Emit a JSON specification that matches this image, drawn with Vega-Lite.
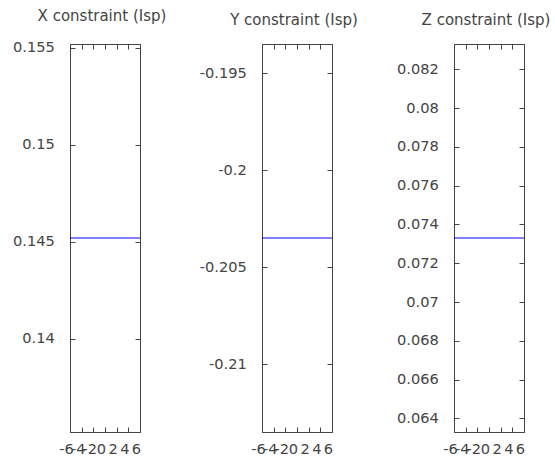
{
  "$schema": "https://vega.github.io/schema/vega-lite/v6.json",
  "background": "white",
  "padding": {"left": 12, "top": 8, "right": 0, "bottom": 0},
  "bounds": "flush",
  "spacing": 122,
  "config": {
    "view": {"stroke": "#444", "strokeWidth": 1},
    "axis": {
      "tickSize": -5,
      "tickColor": "#444",
      "tickWidth": 1,
      "domain": false,
      "grid": false,
      "labelFont": "DejaVu Sans",
      "labelFontSize": 14.6,
      "labelColor": "#444",
      "labelOverlap": false,
      "labelBound": false,
      "labelFlush": false
    },
    "axisX": {"labelPadding": 14.5},
    "axisY": {"labelPadding": 20.7},
    "title": {"font": "DejaVu Sans", "fontSize": 15, "fontWeight": "normal", "color": "#444", "anchor": "middle", "frame": "group", "baseline": "alphabetic", "offset": 15.5, "dx": -3}
  },
  "hconcat": [
    {
      "width": 70,
      "height": 388,
      "title": "X constraint (Isp)",
      "data": {"values": [{"x": -6, "y": 0.1452}, {"x": 6, "y": 0.1452}]},
      "layer": [
        {
          "mark": {"type": "line", "color": "#0000ff", "strokeWidth": 1},
          "encoding": {
            "x": {"field": "x", "type": "quantitative", "scale": {"domain": [-6, 6], "nice": false}, "axis": {"orient": "bottom", "values": [-6, -4, -2, 0, 2, 4, 6], "labelExpr": "'' + datum.value", "labelOffset": -4, "title": null}},
            "y": {"field": "y", "type": "quantitative", "scale": {"domain": [0.1352, 0.1552], "nice": false, "zero": false}, "axis": {"orient": "left", "values": [0.14, 0.145, 0.15, 0.155], "labelExpr": "'' + datum.value", "title": null}}
          }
        },
        {
          "mark": {"type": "line", "opacity": 0},
          "encoding": {
            "x": {"field": "x", "type": "quantitative", "axis": {"orient": "top", "values": [-6, -4, -2, 0, 2, 4, 6], "labels": false, "title": null}},
            "y": {"field": "y", "type": "quantitative", "axis": {"orient": "right", "values": [0.14, 0.145, 0.15, 0.155], "labels": false, "title": null}}
          }
        }
      ],
      "resolve": {"axis": {"x": "independent", "y": "independent"}}
    },
    {
      "width": 70,
      "height": 388,
      "title": "Y constraint (Isp)",
      "data": {"values": [{"x": -6, "y": -0.2035}, {"x": 6, "y": -0.2035}]},
      "layer": [
        {
          "mark": {"type": "line", "color": "#0000ff", "strokeWidth": 1},
          "encoding": {
            "x": {"field": "x", "type": "quantitative", "scale": {"domain": [-6, 6], "nice": false}, "axis": {"orient": "bottom", "values": [-6, -4, -2, 0, 2, 4, 6], "labelExpr": "'' + datum.value", "labelOffset": -4, "title": null}},
            "y": {"field": "y", "type": "quantitative", "scale": {"domain": [-0.2135, -0.1935], "nice": false, "zero": false}, "axis": {"orient": "left", "values": [-0.21, -0.205, -0.2, -0.195], "labelExpr": "'' + datum.value", "title": null}}
          }
        },
        {
          "mark": {"type": "line", "opacity": 0},
          "encoding": {
            "x": {"field": "x", "type": "quantitative", "axis": {"orient": "top", "values": [-6, -4, -2, 0, 2, 4, 6], "labels": false, "title": null}},
            "y": {"field": "y", "type": "quantitative", "axis": {"orient": "right", "values": [-0.21, -0.205, -0.2, -0.195], "labels": false, "title": null}}
          }
        }
      ],
      "resolve": {"axis": {"x": "independent", "y": "independent"}}
    },
    {
      "width": 70,
      "height": 388,
      "title": "Z constraint (Isp)",
      "data": {"values": [{"x": -6, "y": 0.0733}, {"x": 6, "y": 0.0733}]},
      "layer": [
        {
          "mark": {"type": "line", "color": "#0000ff", "strokeWidth": 1},
          "encoding": {
            "x": {"field": "x", "type": "quantitative", "scale": {"domain": [-6, 6], "nice": false}, "axis": {"orient": "bottom", "values": [-6, -4, -2, 0, 2, 4, 6], "labelExpr": "'' + datum.value", "labelOffset": -4, "title": null}},
            "y": {"field": "y", "type": "quantitative", "scale": {"domain": [0.0633, 0.0833], "nice": false, "zero": false}, "axis": {"orient": "left", "values": [0.064, 0.066, 0.068, 0.07, 0.072, 0.074, 0.076, 0.078, 0.08, 0.082], "labelExpr": "'' + datum.value", "title": null}}
          }
        },
        {
          "mark": {"type": "line", "opacity": 0},
          "encoding": {
            "x": {"field": "x", "type": "quantitative", "axis": {"orient": "top", "values": [-6, -4, -2, 0, 2, 4, 6], "labels": false, "title": null}},
            "y": {"field": "y", "type": "quantitative", "axis": {"orient": "right", "values": [0.064, 0.066, 0.068, 0.07, 0.072, 0.074, 0.076, 0.078, 0.08, 0.082], "labels": false, "title": null}}
          }
        }
      ],
      "resolve": {"axis": {"x": "independent", "y": "independent"}}
    }
  ]
}
